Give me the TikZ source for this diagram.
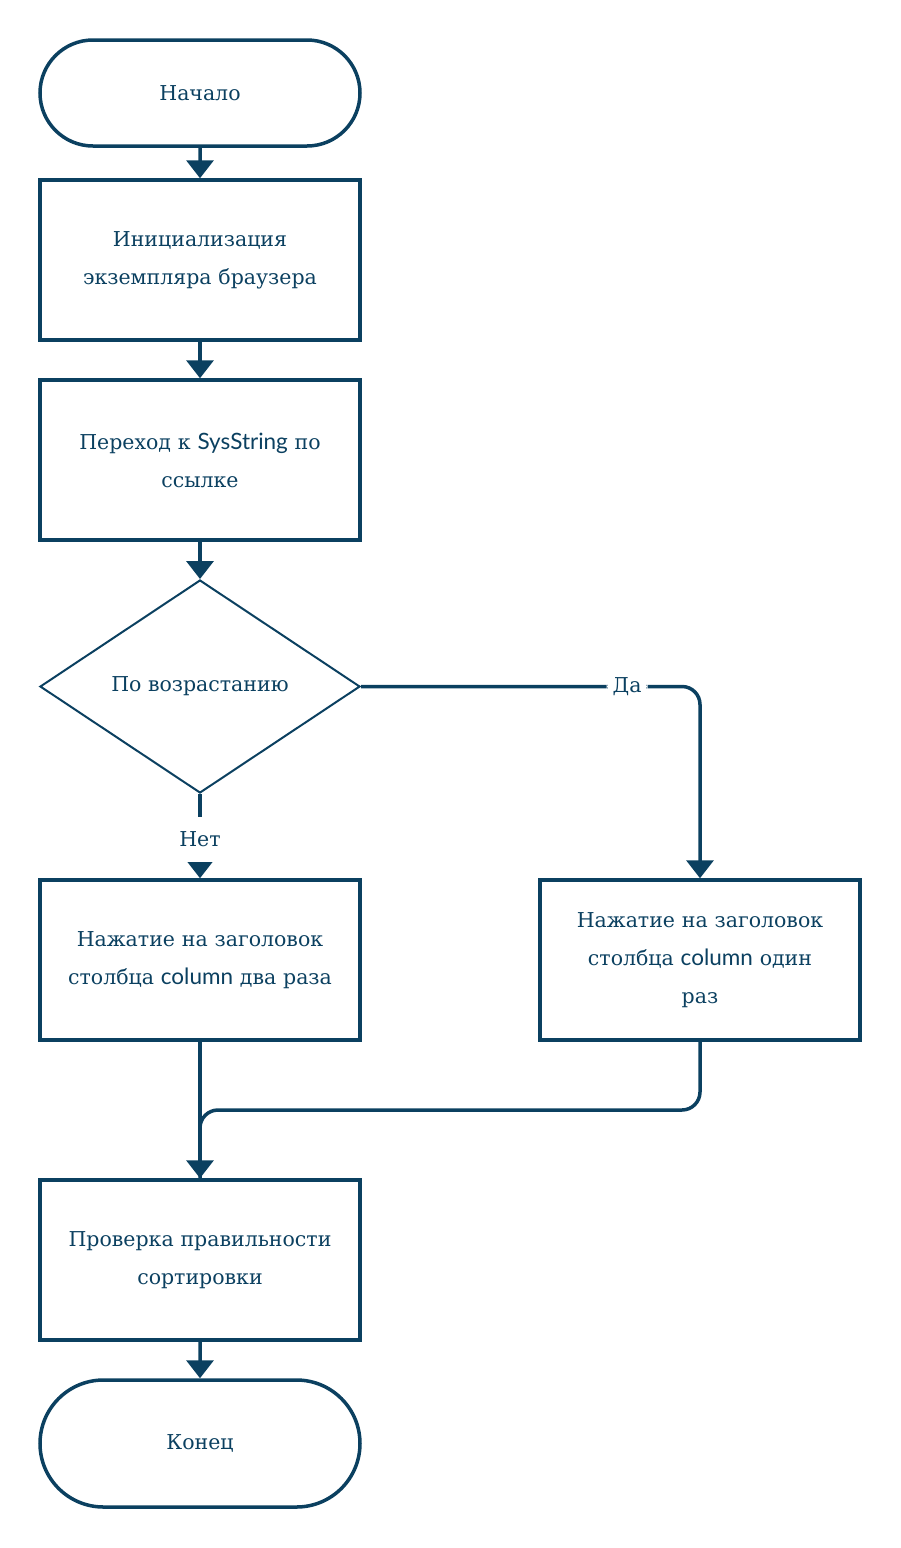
\documentclass[tikz,border=0pt]{standalone}
\usepackage{fontspec}
\setmainfont{DejaVu Serif}
\newfontfamily\lato{Lato}
\usetikzlibrary{shapes.geometric,shapes.misc,arrows.meta}
\definecolor{ink}{HTML}{0B4060}
\begin{document}
\begin{tikzpicture}[x=1pt,y=-1pt,
  every node/.style={text=ink,font=\fontsize{20.5}{38}\selectfont},
  boxstyle/.style={draw=ink,line width=3.5pt,rectangle,minimum width=320pt,minimum height=160pt,align=center,text width=310pt,inner sep=0pt},
  term/.style={draw=ink,line width=3.5pt,rounded rectangle,minimum width=320pt,align=center,inner sep=0pt},
  decstyle/.style={draw=ink,line width=2pt,diamond,minimum width=320pt,minimum height=213pt,aspect=1.5,inner sep=0pt},
  conn/.style={draw=ink,line width=3.5pt},
  arr/.style={-{Triangle[width=27pt,length=18pt]}},
  lbl/.style={fill=white,inner xsep=6pt,inner ysep=15pt}]
\useasboundingbox (0,0) rectangle (901,1548);
\node[term,minimum height=106pt] (start) at (200,93) {Начало};
\node[boxstyle] (b1) at (200,260) {Инициализация\\экземпляра браузера};
\node[boxstyle] (b2) at (200,460) {Переход к {\lato\fontsize{22.5}{38}\selectfont SysString} по\\ссылке};
\node[decstyle] (dec) at (200,686.5) {По возрастанию};
\node[boxstyle] (b3) at (200,960) {Нажатие на заголовок\\столбца {\lato\fontsize{22.5}{38}\selectfont column} два раза};
\node[boxstyle] (b4) at (700,960) {Нажатие на заголовок\\столбца {\lato\fontsize{22.5}{38}\selectfont column} один\\раз};
\node[boxstyle] (b5) at (200,1260) {Проверка правильности\\сортировки};
\node[term,minimum height=127pt] (stop) at (200,1443.5) {Конец};
\coordinate (mj) at (200,1110);
\draw[conn,arr] (start) -- (b1);
\draw[conn,arr] (b1) -- (b2);
\draw[conn,arr] (b2) -- (dec.north);
\draw[conn,arr] (dec.south) -- node[lbl,pos=0.54] {Нет} (b3.north);
\draw[conn,arr,rounded corners=18pt] (dec.east) -- node[lbl,pos=0.785,inner ysep=4pt] {Да} (b4.north |- dec.east) -- (b4.north);
\draw[conn,arr] (b3.south) -- (b5.north);
\draw[conn,rounded corners=18pt] (b4.south) |- (mj) -- (b5.north);
\draw[conn,arr] (b5) -- (stop);
\end{tikzpicture}
\end{document}
